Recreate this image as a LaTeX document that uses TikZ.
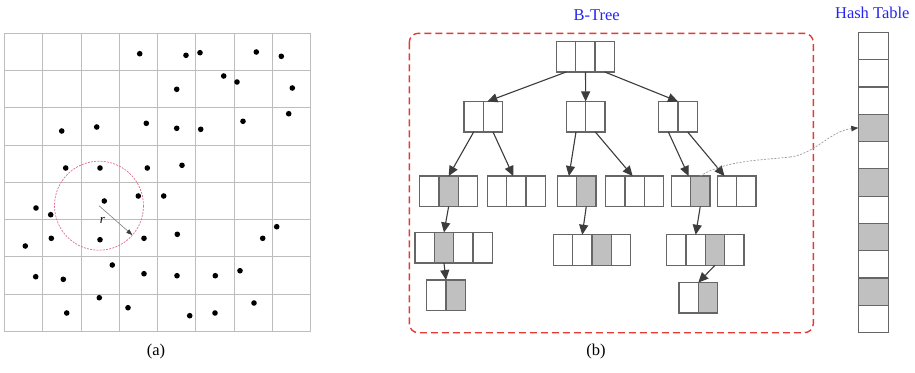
\documentclass[tikz,border=0pt]{standalone}
\usepackage{fontspec}
\setmainfont{Liberation Serif}
\usetikzlibrary{arrows.meta,calc}
\definecolor{cellgray}{HTML}{666666}
\definecolor{keygray}{HTML}{C0C0C0}
\definecolor{arrowgray}{HTML}{3C3C3C}
\definecolor{gridgray}{HTML}{BDBDBD}
\definecolor{boxred}{HTML}{E53935}
\definecolor{circred}{HTML}{E0708A}
\definecolor{titleblue}{HTML}{2626F0}
\tikzset{
  cell/.style={draw=cellgray, line width=1.2pt, fill=white, minimum width=19.3pt, minimum height=30.5pt, inner sep=0pt, outer sep=0pt},
  keycell/.style={cell, fill=keygray},
  hcell/.style={draw=cellgray, line width=1.2pt, minimum width=30pt, minimum height=27.3pt, inner sep=0pt, outer sep=0pt},
  tarrow/.style={draw=arrowgray, line width=1.1pt, -{Triangle[length=10pt,width=9pt,color=arrowgray]}},
  gridline/.style={draw=gridgray, line width=0.9pt},
  dot/.style={fill=black},
  title/.style={text=titleblue, font=\fontsize{16.5}{18}\selectfont, inner sep=0pt},
  caption/.style={font=\fontsize{16.5}{18}\selectfont, inner sep=0pt},
  linkline/.style={draw=gray!80, line width=0.7pt, dash pattern=on 2pt off 1.5pt},
}
\begin{document}
\begin{tikzpicture}[x=1pt,y=-1pt]
\useasboundingbox[fill=white] (0,0) rectangle (915,372);

% ---------- (a) grid ----------
\foreach \x in {4,42.3,81.3,119.7,157.7,195.7,234.3,272.7,310.7}
  \draw[gridline] (\x,33.3) -- (\x,331.7);
\foreach \y in {33.3,70.7,107.7,145.3,182.3,219.3,256.7,294.3,331.7}
  \draw[gridline] (4,\y) -- (310.7,\y);

\foreach \x/\y in {139.7/53.7,186/55.3,200/52.7,256.3/52,281.3/56.3,
  223.7/76,237/82,176.7/89.3,292.3/88,288.7/113.7,
  61.7/131,96.7/127,146.3/123.3,176.7/128.3,200.7/129.3,243/121.3,
  65.7/168,100/168,147.3/168,182/165.3,
  104.3/201,138.3/196,163.7/196,36/208,50.7/214.7,276.7/226.7,
  51.3/238.3,100/239.7,144/238.3,177.3/234.3,262.7/238.3,25.3/246,
  112.3/265,35.7/276.7,63.3/279.3,144/273.7,177/275.7,215.3/275.7,240/270.7,
  99.3/297.7,128/307.7,66.7/313,189.7/315.7,215/313,254/303}
  \fill[dot] (\x,\y) circle (2.8);

\coordinate (cc) at (99,205.7);
\coordinate (ce) at (132.3,235);
\draw[draw=circred, line width=0.7pt, dash pattern=on 2pt off 1.2pt] (cc) circle (44.5);
\draw[draw=gray, line width=0.6pt, -{Triangle[length=6pt,width=4.5pt,color=arrowgray]}] (cc) -- (ce);
\node[font=\fontsize{13}{14}\selectfont\itshape, inner sep=0pt] (rlab) at (102.5,220) {r};

\node[caption] (capa) at (156,352) {(a)};

% ---------- (b) B-Tree ----------
\node[title] (bt) at (596.7,15) {B-Tree};
\node[title] (ht) at (872.3,13.3) {Hash Table};

\draw[draw=boxred, line width=1.4pt, dash pattern=on 7pt off 4pt, rounded corners=9pt]
  (409.3,33.3) rectangle (813.3,332.7);

% root
\node[cell] (Q1) at (566.3,56.7) {};
\node[cell] (Q2) at (585.5,56.7) {};
\node[cell] (Q3) at (604.7,56.7) {};
% level 2
\node[cell] (L1) at (473.7,116.7) {};
\node[cell] (L2) at (493.0,116.7) {};
\node[cell] (M1) at (576.0,116.7) {};
\node[cell] (M2) at (595.3,116.7) {};
\node[cell] (R1) at (668.35,116.7) {};
\node[cell] (R2) at (687.65,116.7) {};
% level 3
\node[cell] (A1) at (429.35,191.3) {};
\node[keycell] (A2) at (448.65,191.3) {};
\node[cell] (A3) at (467.95,191.3) {};
\node[cell] (B1) at (496.95,191.3) {};
\node[cell] (B2) at (516.25,191.3) {};
\node[cell] (B3) at (535.55,191.3) {};
\node[cell] (C1) at (566.95,191.3) {};
\node[keycell] (C2) at (586.25,191.3) {};
\node[cell] (D1) at (615.35,191.3) {};
\node[cell] (D2) at (634.65,191.3) {};
\node[cell] (D3) at (653.95,191.3) {};
\node[cell] (E1) at (680.95,191.3) {};
\node[keycell] (E2) at (700.25,191.3) {};
\node[cell] (F1) at (726.95,191.3) {};
\node[cell] (F2) at (746.25,191.3) {};
% level 4
\node[cell] (G1) at (424.65,247.7) {};
\node[keycell] (G2) at (443.95,247.7) {};
\node[cell] (G3) at (463.25,247.7) {};
\node[cell] (G4) at (482.55,247.7) {};
\node[cell] (H1) at (562.95,250) {};
\node[cell] (H2) at (582.25,250) {};
\node[keycell] (H3) at (601.55,250) {};
\node[cell] (H4) at (620.85,250) {};
\node[cell] (I1) at (676.35,250) {};
\node[cell] (I2) at (695.65,250) {};
\node[keycell] (I3) at (714.95,250) {};
\node[cell] (I4) at (734.25,250) {};
% level 5
\node[cell] (J1) at (436.35,295.3) {};
\node[keycell] (J2) at (455.65,295.3) {};
\node[cell] (K1) at (688.65,297.8) {};
\node[keycell] (K2) at (707.95,297.8) {};

% tree arrows
\draw[tarrow] (Q1.south) -- ([xshift=4pt]L1.north east);
\draw[tarrow] (Q2.south) -- (M1.north east);
\draw[tarrow] (Q3.south) -- (R1.north east);
\draw[tarrow] (L1.south) -- (A2.north);
\draw[tarrow] (L2.south) -- ([xshift=-3pt]B2.north);
\draw[tarrow] (M1.south) -- ([xshift=2pt]C1.north);
\draw[tarrow] (M2.south) -- ([xshift=-2pt]D2.north);
\draw[tarrow] (R1.south) -- ([xshift=-2pt]E1.north east);
\draw[tarrow] (R2.south) -- ([xshift=-2.5pt]F1.north);
\draw[tarrow] (A2.south) -- (G2.north);
\draw[tarrow] (C2.south) -- (H2.north);
\draw[tarrow] (E2.south) -- (I2.north);
\draw[tarrow] (G2.south) -- (J1.north east);
\draw[tarrow] (I3.south) -- (K1.north east);

% hash table
\foreach \i/\f in {1/white,2/white,3/white,4/keygray,5/white,6/keygray,7/white,8/keygray,9/white,10/keygray,11/white}
  \node[hcell, fill=\f] (T\i) at (873.3,{18.65+27.3*\i}) {};

% link curve
\coordinate (mid) at (790,157);
\draw[linkline] (E2.north) .. controls (725,160) and (765,160) .. (mid);
\draw[linkline, -{Triangle[length=7pt,width=5.5pt,color=arrowgray]}]
  (mid) .. controls (815,154) and (830,131) .. (T4.west);

\node[caption] (capb) at (596,352) {(b)};
\end{tikzpicture}
\end{document}
